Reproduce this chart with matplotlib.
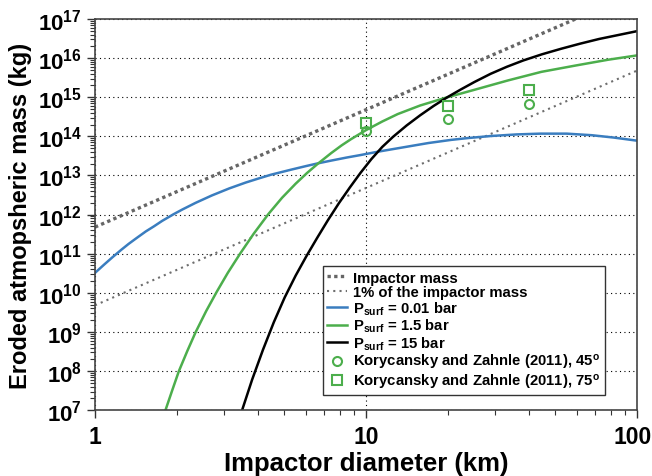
import numpy as np
import matplotlib
matplotlib.use('Agg')
import matplotlib.pyplot as plt
import matplotlib.transforms as mtransforms
from matplotlib.ticker import LogLocator, FuncFormatter, NullFormatter

plt.rcParams['font.family'] = ['Liberation Sans', 'DejaVu Sans']
plt.rcParams['font.weight'] = 'bold'
plt.rcParams['mathtext.fontset'] = 'custom'
plt.rcParams['mathtext.rm'] = 'Liberation Sans:bold'
plt.rcParams['mathtext.it'] = 'Liberation Sans:bold'
plt.rcParams['mathtext.bf'] = 'Liberation Sans:bold'

# impactor mass and 1% of it (kg)
d_imp = [1, 10, 100]
m_imp = [4.8e11, 4.8e14, 4.8e17]
m_imp_1pc = [4.8e9, 4.8e12, 4.8e15]

# eroded mass, P_surf = 0.01 bar (log10 kg)
d_p001 = [1.0, 1.08, 1.16, 1.25, 1.33, 1.43, 1.54, 1.65, 1.77, 1.95, 2.10, 2.35, 2.70, 3.13, 3.60,
          4.0, 4.46, 5.30, 6.0, 6.64, 7.43, 8.5, 9.5, 11.1, 14.0, 17.0, 20.6, 24.0, 29.0, 36.0,
          44.0, 55.0, 68.0, 82.0, 100.0]
log_p001 = [10.51, 10.72, 10.91, 11.10, 11.25, 11.41, 11.57, 11.70, 11.84, 12.01, 12.13, 12.30, 12.49,
            12.67, 12.82, 12.92, 13.02, 13.15, 13.24, 13.31, 13.38, 13.46, 13.52, 13.61, 13.73, 13.83,
            13.91, 13.96, 14.01, 14.05, 14.07, 14.07, 14.03, 13.97, 13.89]

# P_surf = 1.5 bar
d_p15 = [1.82, 1.93, 2.04, 2.19, 2.35, 2.57, 2.81, 3.09, 3.43, 3.85, 4.37, 4.90, 5.50, 6.05, 6.64,
         7.43, 8.13, 8.81, 10.0, 11.48, 13.09, 15.85, 19.5, 25.1, 33.4, 44.4, 59.2, 78.3, 100.0]
log_p15 = [7.00, 7.52, 8.00, 8.51, 8.99, 9.53, 10.02, 10.51, 11.00, 11.51, 12.02, 12.43, 12.79, 13.06,
           13.30, 13.57, 13.77, 13.93, 14.16, 14.38, 14.57, 14.79, 14.98, 15.19, 15.43, 15.65, 15.81,
           15.96, 16.07]

# P_surf = 15 bar
d_p150 = [3.49, 3.80, 4.17, 4.57, 5.01, 5.50, 6.03, 6.61, 7.24, 7.94, 8.71, 9.55, 10.47, 11.48, 12.59,
          14.13, 15.85, 17.78, 19.95, 22.39, 25.12, 28.84, 33.11, 38.02, 44.67, 52.48, 61.66, 72.44,
          85.11, 100.0]
log_p150 = [7.00, 7.78, 8.55, 9.25, 9.88, 10.44, 10.94, 11.41, 11.86, 12.29, 12.69, 13.07, 13.42, 13.73,
            13.99, 14.28, 14.54, 14.78, 15.00, 15.20, 15.39, 15.60, 15.78, 15.94, 16.10, 16.24, 16.37,
            16.49, 16.59, 16.69]

# Korycansky and Zahnle (2011)
d_kz = [10, 20, 40]
m_kz45 = [1.4e14, 2.8e14, 6.7e14]
m_kz75 = [2.2e14, 5.9e14, 1.56e15]

c_blue = '#3a7dbf'
c_green = '#4cae4c'

fig = plt.figure(figsize=(6.52, 4.77), dpi=100)
ax = fig.add_axes([0.1457, 0.138, 0.8313, 0.820])

ax.plot(d_imp, m_imp, color='#666666', lw=2.4, linestyle=(0, (1, 1.0)), label='Impactor mass')
ax.plot(d_imp, m_imp_1pc, color='#6e6e6e', lw=1.5, linestyle=(0, (1, 2)), label='1% of the impactor mass')
ax.plot(d_p001, 10.0 ** np.array(log_p001), color=c_blue, lw=1.8, label=r'P$_{surf}$ = 0.01 bar')
ax.plot(d_p15, 10.0 ** np.array(log_p15), color=c_green, lw=1.8, label=r'P$_{surf}$ = 1.5 bar')
ax.plot(d_p150, 10.0 ** np.array(log_p150), color='black', lw=1.8, label=r'P$_{surf}$ = 15 bar')
ax.plot(d_kz, m_kz45, 'o', mfc='none', mec=c_green, mew=1.5, ms=6.5, linestyle='none',
        label='Korycansky and Zahnle (2011), 45$^{o}$')
ax.plot(d_kz, m_kz75, 's', mfc='none', mec=c_green, mew=1.5, ms=6.5, linestyle='none',
        label='Korycansky and Zahnle (2011), 75$^{o}$')

ax.set_xscale('log')
ax.set_yscale('log')
ax.set_xlim(1, 100)
ax.set_ylim(1e7, 1e17)

ax.yaxis.set_major_locator(LogLocator(base=10, numticks=20))
ax.yaxis.set_minor_locator(LogLocator(base=10, subs=np.arange(2, 10), numticks=200))
ax.yaxis.set_minor_formatter(NullFormatter())
ax.yaxis.set_major_formatter(FuncFormatter(lambda v, p: r'$10^{%d}$' % round(np.log10(v))))
ax.xaxis.set_major_formatter(FuncFormatter(lambda v, p: '%g' % v))
ax.xaxis.set_minor_formatter(NullFormatter())

ax.tick_params(which='major', length=6, width=1.0, labelsize=16, colors='#333333', labelcolor='black')
ax.tick_params(which='minor', length=3.5, width=0.8, colors='#333333')
ax.tick_params(axis='x', which='major', pad=5, labelsize=16.5)
for s in ax.spines.values():
    s.set_color('#444444')
    s.set_linewidth(1.2)

ax.grid(which='major', color='black', linestyle=(0, (1, 3)), lw=0.8)
ax.set_axisbelow(True)

ax.set_xlabel('Impactor diameter (km)', fontsize=18.5, fontweight='bold', labelpad=2)
ax.set_ylabel('Eroded atmopsheric mass (kg)', fontsize=17, fontweight='bold', labelpad=4)

leg = ax.legend(loc='lower right', bbox_to_anchor=(0.941, 0.038), fontsize=10.7, frameon=True,
                fancybox=False, edgecolor='#333333', framealpha=1, labelspacing=0.02,
                handlelength=1.35, handletextpad=0.4, borderpad=0.32, borderaxespad=0)
leg.get_frame().set_linewidth(1.0)

fig.canvas.draw()
# pull the "100" label a little inside the figure
for lab in ax.get_xticklabels():
    if lab.get_text() == '100':
        lab.set_transform(lab.get_transform() + mtransforms.ScaledTranslation(-4 / 100, 0, fig.dpi_scale_trans))

fig.savefig('out.png', dpi=100)
